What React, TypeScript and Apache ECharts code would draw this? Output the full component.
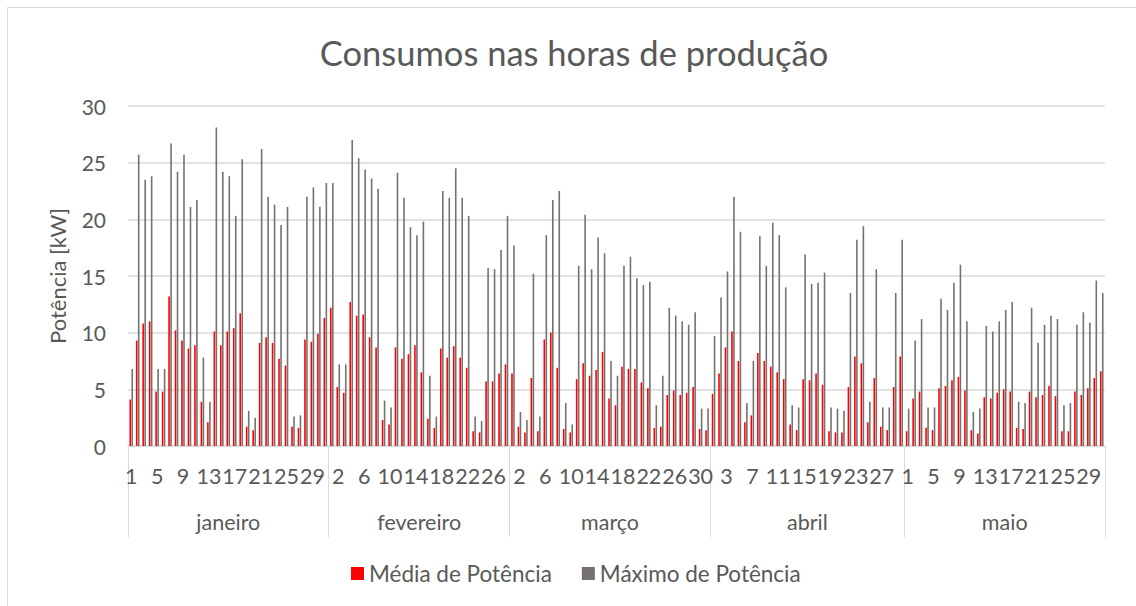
import React, { useEffect, useRef } from "react";
import * as echarts from "echarts";

// Month names (second level of category axis)
const months = ["janeiro", "fevereiro", "março", "abril", "maio"];

// Média de Potência [kW] per day
const avgJan = [4.1, 9.3, 10.8, 11.0, 4.8, 4.8, 13.2, 10.2, 9.3, 8.6, 8.9, 3.9, 2.1, 10.1, 8.9, 10.1, 10.4, 11.7, 1.7, 1.4, 9.1, 9.6, 9.1, 7.7, 7.1, 1.7, 1.6, 9.4, 9.2, 9.9, 11.3];
const avgFeb = [12.2, 5.2, 4.7, 12.7, 11.5, 11.6, 9.6, 8.7, 2.3, 1.9, 8.7, 7.7, 8.1, 8.9, 6.5, 2.4, 1.6, 8.6, 7.8, 8.8, 7.8, 6.9, 1.3, 1.2, 5.7, 5.7, 6.4, 7.2];
const avgMar = [6.4, 1.7, 1.2, 6.0, 1.3, 9.4, 10.0, 6.9, 1.5, 1.2, 5.9, 7.3, 6.2, 6.7, 8.3, 4.2, 3.6, 7.0, 6.8, 6.8, 5.6, 5.1, 1.6, 1.7, 4.5, 4.9, 4.5, 4.7, 5.2, 1.5, 1.4];
const avgApr = [4.6, 6.4, 8.7, 10.1, 7.5, 2.1, 2.7, 8.2, 7.5, 7.0, 6.5, 5.9, 1.9, 1.4, 5.9, 5.8, 6.4, 5.4, 1.3, 1.2, 1.2, 5.2, 7.9, 7.3, 2.1, 6.0, 1.7, 1.4, 5.2, 7.9];
const avgMay = [1.3, 4.2, 4.8, 1.6, 1.4, 5.1, 5.3, 5.8, 6.1, 4.9, 1.4, 1.1, 4.3, 4.2, 4.7, 5.0, 4.8, 1.6, 1.5, 4.8, 4.3, 4.5, 5.3, 4.4, 1.3, 1.3, 4.8, 4.5, 5.1, 6.0, 6.6];

// Máximo de Potência [kW] per day
const maxJan = [6.8, 25.7, 23.5, 23.8, 6.8, 6.8, 26.7, 24.2, 25.7, 21.1, 21.7, 7.8, 3.9, 28.1, 24.2, 23.8, 20.3, 25.3, 3.1, 2.5, 26.2, 22.0, 21.3, 19.5, 21.1, 2.6, 2.7, 22.0, 22.8, 21.1, 23.2];
const maxFeb = [23.2, 7.2, 7.2, 27.0, 25.4, 24.4, 23.6, 22.7, 4.0, 3.4, 24.1, 21.9, 19.3, 18.6, 19.8, 6.2, 2.6, 22.5, 21.9, 24.5, 21.9, 20.3, 2.6, 2.2, 15.7, 15.6, 17.3, 20.3];
const maxMar = [17.7, 3.0, 2.3, 15.2, 2.6, 18.6, 21.7, 22.5, 3.8, 1.9, 15.9, 20.4, 15.6, 18.4, 17.0, 7.5, 6.2, 15.9, 16.7, 14.8, 14.2, 14.5, 3.6, 6.2, 12.2, 11.5, 11.0, 10.7, 11.8, 3.3, 3.3];
const maxApr = [9.7, 13.1, 15.4, 22.0, 18.9, 3.8, 7.5, 18.5, 15.9, 19.7, 18.6, 14.0, 3.6, 3.4, 16.9, 14.3, 14.4, 15.3, 3.4, 3.3, 3.1, 13.5, 18.2, 19.4, 3.9, 15.6, 3.4, 3.4, 13.5, 18.2];
const maxMay = [3.3, 9.3, 11.2, 3.4, 3.4, 13.0, 12.0, 14.4, 16.0, 11.0, 3.0, 3.3, 10.6, 10.1, 11.0, 12.0, 12.7, 3.9, 3.8, 12.2, 9.1, 10.7, 11.5, 11.2, 3.6, 3.8, 10.7, 11.8, 10.9, 14.6, 13.5];

const avgByMonth = [avgJan, avgFeb, avgMar, avgApr, avgMay];
const maxByMonth = [maxJan, maxFeb, maxMar, maxApr, maxMay];

// Y axis ticks
const yMin = 0;
const yMax = 30;
const yStep = 5;

const TEXT = "#595959";
const GRID = "#d9d9d9";
const FONT = "Lato";

export default function App() {
  const ref = useRef<HTMLDivElement>(null);

  useEffect(() => {
    if (!ref.current) return;
    const chart = echarts.init(ref.current, undefined, { renderer: "svg" });

    const dayLabels = avgByMonth.flatMap((arr) => arr.map((_, i) => String(i + 1)));
    const mediaValues = avgByMonth.flat();
    const maximoValues = maxByMonth.flat();
    const total = mediaValues.length;

    const boundaries: number[] = [0];
    const centers: number[] = [];
    let acc = 0;
    avgByMonth.forEach((arr) => {
      centers.push(acc + arr.length / 2);
      acc += arr.length;
      boundaries.push(acc);
    });

    const option: any = {
      animation: false,
      textStyle: { fontFamily: FONT },
      title: {
        text: "Consumos nas horas de produção",
        left: 574,
        top: 35,
        padding: 0,
        textAlign: "center",
        textStyle: { fontFamily: FONT, fontSize: 34.5, fontWeight: "normal", color: TEXT },
      },
      legend: {
        left: 351,
        top: 562,
        padding: 0,
        icon: "rect",
        itemWidth: 13,
        itemHeight: 13,
        itemGap: 30,
        textStyle: { fontFamily: FONT, fontSize: 22.5, color: TEXT },
        data: ["Média de Potência", "Máximo de Potência"],
      },
      grid: { left: 128, right: 31, top: 106, bottom: 160 },
      xAxis: [
        {
          type: "category",
          data: dayLabels,
          position: "bottom",
          axisLine: { show: true, lineStyle: { color: GRID, width: 1 } },
          axisTick: { show: false },
          splitLine: { show: false },
          axisLabel: { interval: 3, margin: 19, fontFamily: FONT, fontSize: 21.5, color: TEXT },
        },
        {
          type: "value",
          min: 0,
          max: total,
          position: "bottom",
          axisLine: { show: false },
          splitLine: { show: false },
          axisTick: {
            show: true,
            customValues: boundaries,
            length: 91,
            lineStyle: { color: GRID, width: 1 },
          },
          axisLabel: {
            customValues: centers,
            margin: 65,
            fontFamily: FONT,
            fontSize: 21.5,
            color: TEXT,
            formatter: (v: number) => {
              const idx = centers.findIndex((c) => Math.abs(c - v) < 0.01);
              return idx >= 0 ? months[idx] : "";
            },
          },
        },
      ],
      yAxis: {
        type: "value",
        min: yMin,
        max: yMax,
        interval: yStep,
        name: "Potência [kW]",
        nameLocation: "middle",
        nameGap: 60,
        nameTextStyle: { fontFamily: FONT, fontSize: 22, color: TEXT },
        axisLine: { show: false },
        axisTick: { show: false },
        axisLabel: { margin: 22, fontFamily: FONT, fontSize: 21, color: TEXT },
        splitLine: { lineStyle: { color: GRID, width: 1.5 } },
      },
      series: [
        {
          name: "Média de Potência",
          type: "bar",
          data: mediaValues,
          barWidth: 1.6,
          barGap: "25%",
          itemStyle: { color: "#FF0000" },
        },
        {
          name: "Máximo de Potência",
          type: "bar",
          data: maximoValues,
          barWidth: 1.6,
          barGap: "25%",
          itemStyle: { color: "#767171" },
        },
      ],
      graphic: [
        {
          type: "rect",
          silent: true,
          shape: { x: 7.5, y: 7.5, width: 1200, height: 700 },
          style: { fill: "none", stroke: GRID, lineWidth: 1 },
        },
      ],
    };

    chart.setOption(option);
    return () => chart.dispose();
  }, []);

  return (
    <div
      ref={ref}
      style={{ position: "absolute", left: 0, top: 0, width: 1136, height: 606, background: "#fff" }}
    />
  );
}
